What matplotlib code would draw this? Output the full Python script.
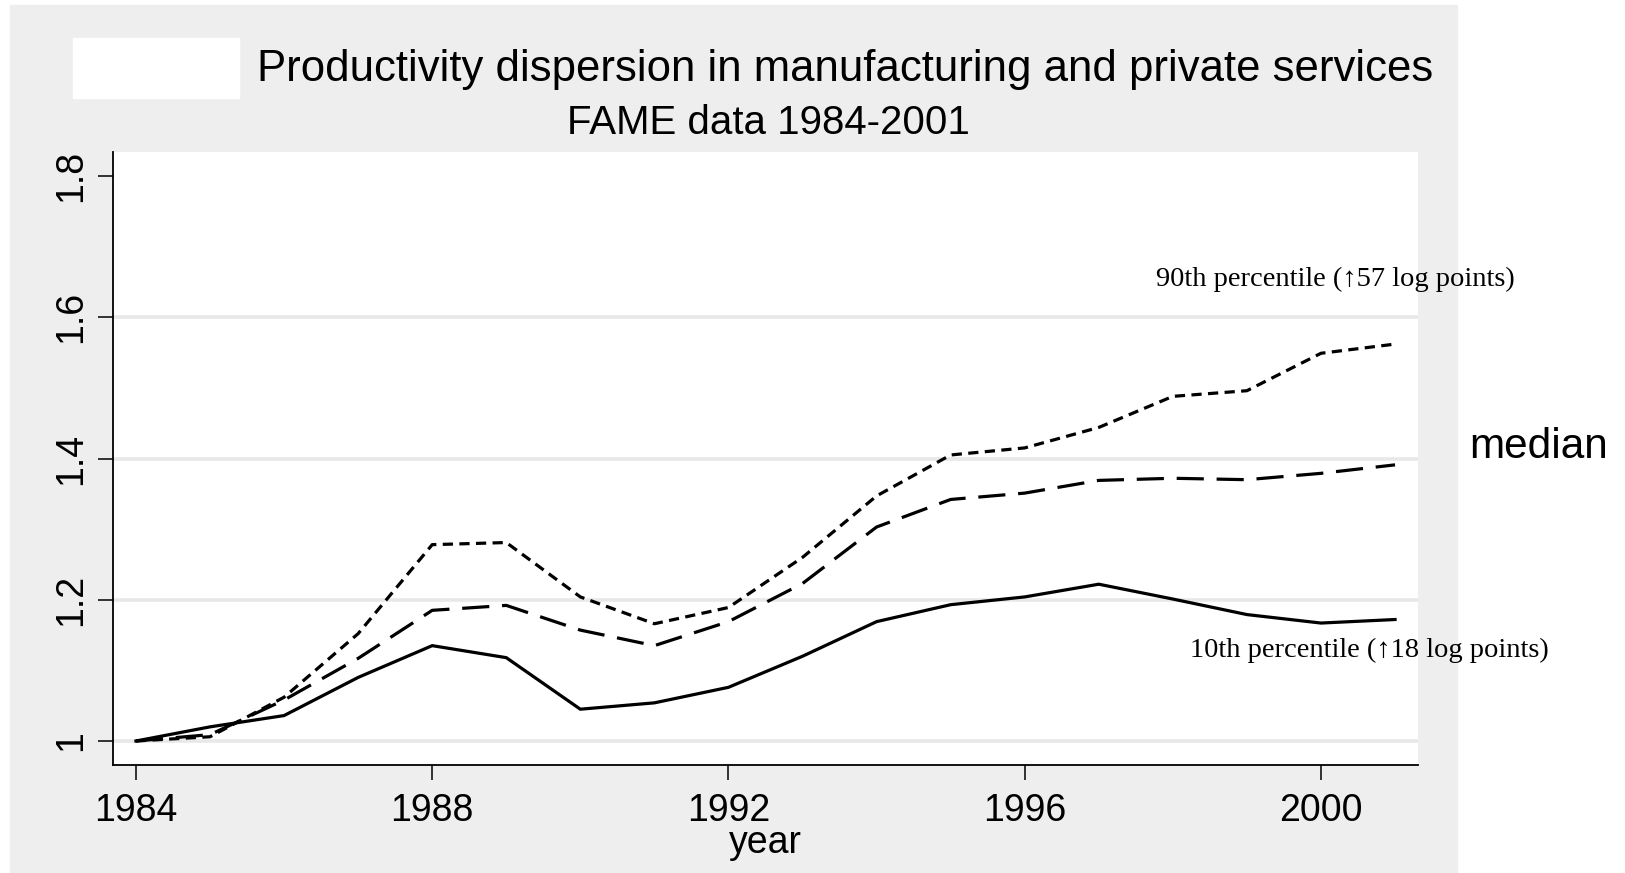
import numpy as np
import matplotlib.pyplot as plt
from matplotlib.patches import Rectangle

plt.rcParams['font.family'] = ['Liberation Sans', 'DejaVu Sans']

# Data (index, 1984 = 1)
years = np.arange(1984, 2002)
p10 = [1.000, 1.020, 1.036, 1.090, 1.135, 1.118, 1.045, 1.054, 1.076,
       1.120, 1.169, 1.193, 1.204, 1.222, 1.201, 1.179, 1.167, 1.172]
p50 = [1.000, 1.009, 1.058, 1.117, 1.185, 1.192, 1.157, 1.135, 1.169,
       1.223, 1.303, 1.342, 1.351, 1.369, 1.372, 1.370, 1.379, 1.391]
p90 = [1.000, 1.006, 1.062, 1.152, 1.278, 1.281, 1.204, 1.166, 1.189,
       1.260, 1.347, 1.405, 1.415, 1.444, 1.488, 1.496, 1.549, 1.562]

yticks = [1, 1.2, 1.4, 1.6, 1.8]
ytick_labels = ['1', '1.2', '1.4', '1.6', '1.8']
xticks = [1984, 1988, 1992, 1996, 2000]

W, H = 1625, 873
fig = plt.figure(figsize=(W / 100, H / 100), dpi=100, facecolor='white')

def fx(px):
    return px / W

def fy(py):
    return 1 - py / H

# grey graph region and the blank box top left
fig.patches.append(Rectangle((fx(10), 0), fx(1457) - fx(10), fy(5),
                             transform=fig.transFigure, color='#eeeeee', zorder=-2))
fig.patches.append(Rectangle((fx(73), fy(98)), fx(239) - fx(73), fy(38) - fy(98),
                             transform=fig.transFigure, color='white', zorder=-1))

ax = fig.add_axes([fx(113), fy(765), fx(1418) - fx(113), fy(152) - fy(765)])
ax.set_zorder(2)
ax.set_facecolor('white')

for y in yticks[:-1]:
    ax.axhline(y, color='#e8e8e8', lw=2.6, zorder=1)

lw = 2.3
ax.plot(years, p10, color='black', lw=lw, solid_joinstyle='miter', zorder=3)
ax.plot(years, p50, color='black', lw=lw, linestyle=(0, (8.5, 4)), zorder=3)
ax.plot(years, p90, color='black', lw=lw, linestyle=(0, (3.2, 2)), zorder=3)

ax.set_xlim(1983.69, 2001.31)
ax.set_ylim(0.966, 1.834)

ax.set_xticks(xticks)
ax.set_xticklabels([str(x) for x in xticks])
ax.set_yticks(yticks)
ax.set_yticklabels(ytick_labels, rotation=90, va='center')
ax.tick_params(axis='both', length=11, width=1.1, labelsize=27)
ax.tick_params(axis='x', pad=9)
ax.tick_params(axis='y', pad=6)

for s in ['top', 'right']:
    ax.spines[s].set_visible(False)
for s in ['left', 'bottom']:
    ax.spines[s].set_linewidth(1.3)

ax.set_xlabel('year', fontsize=27, labelpad=-3)

ann = ['Liberation Serif', 'DejaVu Serif']
ax.text(2000.2, 1.654, '90th percentile (\u219157 log points)', family=ann,
        fontsize=20.5, ha='center', va='center', clip_on=False)
ax.text(2000.65, 1.128, '10th percentile (\u219118 log points)', family=ann,
        fontsize=20.5, ha='center', va='center', clip_on=False)
ax.text(2002.0, 1.416, 'median', fontsize=30.5, ha='left', va='center', clip_on=False)

fig.text(fx(845), fy(70), 'Productivity dispersion in manufacturing and private services',
         fontsize=31.5, ha='center', va='center')
fig.text(fx(768), fy(123), 'FAME data 1984-2001', fontsize=29, ha='center', va='center')

fig.savefig('out.png', dpi=100, facecolor='white')
